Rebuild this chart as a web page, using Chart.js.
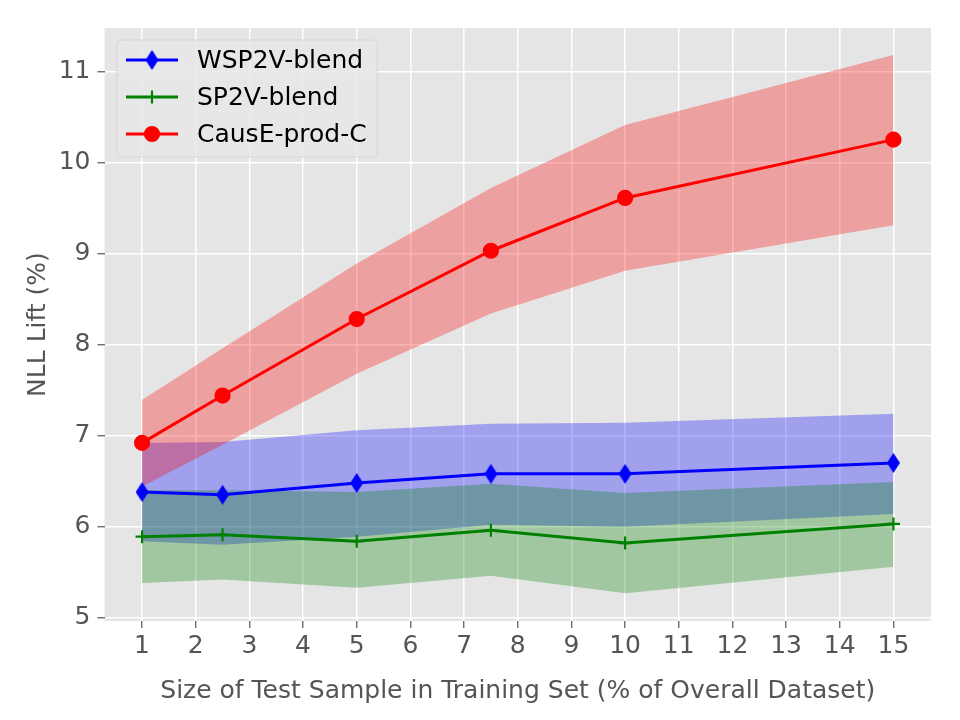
<!DOCTYPE html>
<html>
<head>
<meta charset="utf-8">
<script src="https://cdn.jsdelivr.net/npm/chart.js@4.4.0/dist/chart.umd.min.js"></script>
<style>
  body { margin: 0; background: #fff; }
  canvas { display: block; }
</style>
</head>
<body>
<canvas id="chart" width="960" height="720"></canvas>
<script>
// 数据: x = 测试样本占比 (%)
const xs = [1, 2.5, 5, 7.5, 10, 15];
const xTicks = [1, 2, 3, 4, 5, 6, 7, 8, 9, 10, 11, 12, 13, 14, 15];
const yTicks = [5, 6, 7, 8, 9, 10, 11];

const wsp   = [6.38, 6.35, 6.48, 6.58, 6.58, 6.70];
const wspHi = [6.92, 6.93, 7.06, 7.13, 7.14, 7.24];
const wspLo = [5.84, 5.80, 5.89, 6.02, 6.00, 6.14];

const sp   = [5.89, 5.91, 5.84, 5.96, 5.82, 6.03];
const spHi = [6.40, 6.40, 6.38, 6.47, 6.37, 6.49];
const spLo = [5.38, 5.42, 5.33, 5.46, 5.27, 5.56];

const cause   = [6.92, 7.44, 8.28, 9.03, 9.61, 10.25];
const causeHi = [7.39, 7.96, 8.89, 9.72, 10.41, 11.18];
const causeLo = [6.44, 6.90, 7.68, 8.34, 8.81, 9.31];

const FONT = "'DejaVu Sans', sans-serif";
const pts = arr => xs.map((x, i) => ({ x: x, y: arr[i] }));

// 细菱形标记 (matplotlib 'd')
function thinDiamond(color) {
    const c = document.createElement("canvas");
    c.width = 13; c.height = 20;
    const g = c.getContext("2d");
    g.fillStyle = color;
    g.beginPath();
    g.moveTo(6.5, 0); g.lineTo(13, 10); g.lineTo(6.5, 20); g.lineTo(0, 10);
    g.closePath();
    g.fill();
    return c;
}
const diamond = thinDiamond("#0000ff");

function lineSet(label, data, color, style, radius) {
    return {
        label: label, data: pts(data),
        borderColor: color, backgroundColor: color,
        borderWidth: 3, pointStyle: style, pointRadius: radius,
        pointBorderWidth: 2.2, pointBorderColor: color, pointBackgroundColor: color,
        fill: false, isMain: true
    };
}
function band(data, color, target) {
    return {
        data: pts(data), borderWidth: 0, borderColor: "rgba(0,0,0,0)",
        backgroundColor: color, pointRadius: 0,
        fill: target === undefined ? false : { target: target }
    };
}

// 灰色绘图区背景
const bgPlugin = {
    id: "bg",
    beforeDraw(chart) {
        const a = chart.chartArea, ctx = chart.ctx;
        ctx.save();
        ctx.fillStyle = "#e5e5e5";
        ctx.fillRect(a.left, a.top, a.right - a.left, a.bottom - a.top);
        ctx.restore();
    }
};

// 图例 (线 + 标记)
const legendPlugin = {
    id: "mplLegend",
    afterDraw(chart) {
        const ctx = chart.ctx;
        const x0 = 117, y0 = 40, w = 260, h = 117;
        ctx.save();
        ctx.fillStyle = "rgba(232,232,232,0.85)";
        ctx.strokeStyle = "#d6d6d6";
        ctx.lineWidth = 1;
        ctx.beginPath();
        ctx.roundRect(x0, y0, w, h, 5);
        ctx.fill();
        ctx.stroke();
        const mains = chart.data.datasets.filter(d => d.isMain);
        const order = [2, 1, 0];
        order.forEach((idx, row) => {
            const d = mains[idx];
            const cy = 60 + row * 37;
            ctx.strokeStyle = d.borderColor;
            ctx.lineWidth = 3;
            ctx.beginPath();
            ctx.moveTo(126, cy); ctx.lineTo(178, cy);
            ctx.stroke();
            ctx.fillStyle = d.borderColor;
            ctx.lineWidth = d.pointBorderWidth;
            Chart.helpers.drawPoint(ctx, {
                pointStyle: d.pointStyle, radius: d.pointRadius,
                borderWidth: d.pointBorderWidth, rotation: 0
            }, 152, cy);
            ctx.fillStyle = "#000";
            ctx.font = "25px " + FONT;
            ctx.textBaseline = "middle";
            ctx.fillText(d.label, 197, cy + 1);
        });
        ctx.restore();
    }
};

new Chart(document.getElementById("chart"), {
    type: "line",
    data: {
        datasets: [
            lineSet("CausE-prod-C", cause, "#ff0000", "circle", 7),
            lineSet("SP2V-blend", sp, "#008000", "cross", 6.5),
            lineSet("WSP2V-blend", wsp, "#0000ff", diamond, 8),
            band(causeHi, "rgba(255,0,0,0.3)", 4),
            band(causeLo, "rgba(0,0,0,0)"),
            band(spHi, "rgba(0,128,0,0.3)", 6),
            band(spLo, "rgba(0,0,0,0)"),
            band(wspHi, "rgba(0,0,255,0.3)", 8),
            band(wspLo, "rgba(0,0,0,0)")
        ]
    },
    options: {
        responsive: false,
        animation: false,
        devicePixelRatio: 1,
        layout: { padding: { top: 28, right: 29, left: 0, bottom: 0 } },
        plugins: {
            legend: { display: false },
            tooltip: { enabled: false },
            filler: { drawTime: "beforeDatasetsDraw" }
        },
        scales: {
            x: {
                type: "linear", min: 0.3, max: 15.7,
                afterBuildTicks: axis => { axis.ticks = xTicks.map(v => ({ value: v })); },
                afterFit: axis => { axis.height = 99; },
                grid: { color: "#ffffff", lineWidth: 1.5, tickColor: "#555555", tickLength: 7, tickWidth: 1.2 },
                border: { display: false },
                ticks: { color: "#555555", font: { family: FONT, size: 25 }, padding: 3, maxRotation: 0, autoSkip: false },
                title: {
                    display: true, text: "Size of Test Sample in Training Set (% of Overall Dataset)",
                    color: "#555555", font: { family: FONT, size: 25 }, padding: { top: 0, bottom: 14 }
                }
            },
            y: {
                min: 4.964, max: 11.476,
                afterBuildTicks: axis => { axis.ticks = yTicks.map(v => ({ value: v })); },
                afterFit: axis => { axis.width = 104.5; },
                grid: { color: "#ffffff", lineWidth: 1.5, tickColor: "#555555", tickLength: 7, tickWidth: 1.2 },
                border: { display: false },
                ticks: { color: "#555555", font: { family: FONT, size: 25 }, padding: 7 },
                title: {
                    display: true, text: "NLL Lift (%)",
                    color: "#555555", font: { family: FONT, size: 25 }, padding: { top: 23, bottom: 0 }
                }
            }
        }
    },
    plugins: [bgPlugin, legendPlugin]
});
</script>
</body>
</html>
